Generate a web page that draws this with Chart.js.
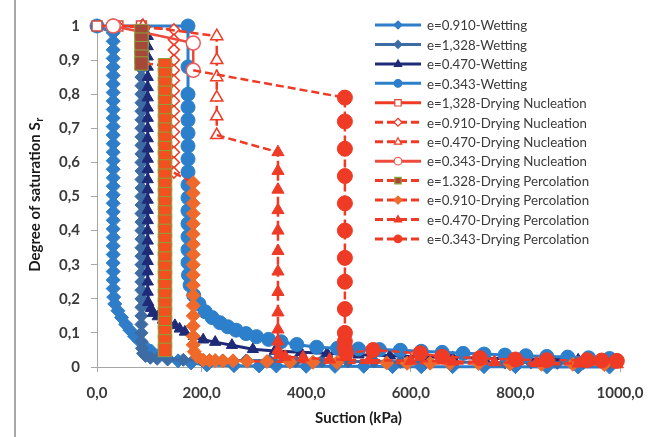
<!DOCTYPE html>
<html>
<head>
<meta charset="utf-8">
<script src="https://cdn.jsdelivr.net/npm/chart.js@4.4.1/dist/chart.umd.min.js"></script>
<style>
  html, body { margin: 0; padding: 0; background: #ffffff; }
  #wrap { width: 662px; height: 437px; }
</style>
</head>
<body>
<div id="wrap"><canvas id="c" width="662" height="437"></canvas></div>
<script>
// ---- tick labels ----
const xTickLabels = ['0,0', '200,0', '400,0', '600,0', '800,0', '1000,0'];
const yTickLabels = ['0', '0,1', '0,2', '0,3', '0,4', '0,5', '0,6', '0,7', '0,8', '0,9', '1'];
const xTitle = 'Suction (kPa)';
const yTitleMain = 'Degree of saturation S';
const yTitleSub = 'r';

// ---- series labels ----
const seriesLabels = [
  'e=0.910-Wetting',
  'e=1,328-Wetting',
  'e=0.470-Wetting',
  'e=0.343-Wetting',
  'e=1,328-Drying Nucleation',
  'e=0.910-Drying Nucleation',
  'e=0.470-Drying Nucleation',
  'e=0.343-Drying Nucleation',
  'e=1.328-Drying Percolation',
  'e=0.910-Drying Percolation',
  'e=0.470-Drying Percolation',
  'e=0.343-Drying Percolation'
];

// ---- series values: [suction kPa, degree of saturation] ----
const wet_e0910 = [[0,1.0],[31,0.98],[31,0.955],[31,0.93],[31,0.905],[31,0.88],[31,0.855],[31,0.83],[31,0.805],[31,0.78],[31,0.755],[31,0.73],[31,0.705],[31,0.68],[31,0.655],[31,0.63],[31,0.605],[31,0.58],[31,0.555],[31,0.53],[31,0.505],[31,0.48],[31,0.455],[31,0.43],[31,0.405],[31,0.38],[31,0.355],[31,0.33],[31,0.305],[31,0.28],[31,0.255],[31,0.23],[32,0.205],[34,0.185],[40,0.165],[47,0.145],[55,0.125],[63,0.108],[72,0.09],[82,0.075],[92,0.06],[104,0.047],[118,0.035],[135,0.025],[155,0.018],[180,0.012],[210,0.006],[262,0.004],[310,0.003],[343,0.003],[400,0.002],[455,0.002],[510,0.002],[565,0.001],[620,0.001],[680,0.001],[740,0.001],[800,0.001],[860,0],[920,0],[980,0]];
const wet_e1328 = [[85,1.0],[85,0.975],[85,0.95],[85,0.925],[85,0.9],[85,0.875],[85,0.85],[85,0.825],[85,0.8],[85,0.775],[85,0.75],[85,0.725],[85,0.7],[85,0.675],[85,0.65],[85,0.625],[85,0.6],[85,0.575],[85,0.55],[85,0.525],[85,0.5],[85,0.475],[85,0.45],[85,0.425],[85,0.4],[85,0.375],[85,0.35],[85,0.325],[85,0.3],[85,0.275],[85,0.25],[85,0.225],[85,0.2],[85,0.175],[85,0.15],[85,0.125],[85,0.1],[85,0.075],[86,0.055],[88,0.04],[93,0.032],[102,0.027],[115,0.024],[135,0.022],[165,0.021],[200,0.02],[240,0.019],[285,0.019],[330,0.018],[380,0.017],[430,0.017],[480,0.016],[530,0.016],[580,0.015],[630,0.015],[680,0.014],[730,0.014],[780,0.013],[830,0.013],[880,0.012],[930,0.012],[980,0.011]];
const wet_e0470 = [[88,1.0],[97,0.97],[97,0.94],[97,0.91],[97,0.88],[97,0.85],[97,0.82],[97,0.79],[97,0.76],[97,0.73],[97,0.70],[97,0.67],[97,0.64],[97,0.61],[97,0.58],[97,0.55],[97,0.52],[97,0.49],[97,0.46],[97,0.43],[97,0.40],[97,0.37],[97,0.34],[97,0.31],[97,0.28],[97,0.25],[97,0.22],[98,0.19],[103,0.172],[107,0.158],[116,0.148],[126,0.138],[137,0.13],[149,0.122],[158,0.112],[168,0.103],[185,0.09],[203,0.08],[226,0.073],[258,0.064],[298,0.052],[340,0.047],[390,0.043],[440,0.04],[500,0.036],[560,0.033],[620,0.03],[680,0.028],[740,0.026],[800,0.024],[860,0.022],[920,0.021],[980,0.02]];
const wet_e0343 = [[0,1.0],[31,1.0],[174,1.0],[174,0.88],[174,0.80],[174,0.762],[174,0.724],[174,0.686],[174,0.648],[174,0.61],[174,0.572],[174,0.534],[174,0.496],[174,0.458],[174,0.42],[174,0.382],[174,0.344],[174,0.306],[175,0.27],[178,0.24],[185,0.21],[195,0.185],[207,0.162],[220,0.145],[235,0.13],[250,0.118],[266,0.108],[285,0.098],[305,0.089],[328,0.081],[352,0.074],[382,0.066],[420,0.058],[460,0.055],[500,0.053],[540,0.051],[580,0.049],[620,0.046],[660,0.043],[700,0.04],[740,0.038],[780,0.035],[820,0.033],[860,0.031],[900,0.029],[940,0.027],[980,0.025]];
const nuc_e1328 = [[0,1.0],[40,1.0],[85,1.0]];
const nuc_e0910 = [[40,1.0],[147,0.99],[147,0.96],[147,0.93],[147,0.9],[147,0.87],[147,0.84],[147,0.81],[147,0.78],[147,0.75],[147,0.72],[147,0.69],[147,0.66],[147,0.63],[147,0.6],[147,0.57]];
const nuc_e0470 = [[88,1.0],[229,0.97],[229,0.9],[229,0.85],[229,0.79],[229,0.735],[229,0.68]];
const nuc_e0343 = [[31,1.0],[184,0.95],[184,0.87]];
const perc_e1328 = [[85,0.985],[85,0.96],[85,0.935],[85,0.91],[85,0.89],[130,0.885],[130,0.858],[130,0.831],[130,0.804],[130,0.777],[130,0.75],[130,0.723],[130,0.696],[130,0.669],[130,0.642],[130,0.615],[130,0.588],[130,0.561],[130,0.534],[130,0.507],[130,0.48],[130,0.453],[130,0.426],[130,0.399],[130,0.372],[130,0.345],[130,0.318],[130,0.291],[130,0.264],[130,0.237],[130,0.21],[130,0.183],[130,0.156],[130,0.129],[130,0.102],[130,0.075],[130,0.05]];
const perc_e0910 = [[147,0.57],[184,0.54],[184,0.51],[184,0.48],[184,0.45],[184,0.42],[184,0.39],[184,0.36],[184,0.33],[184,0.30],[184,0.27],[184,0.24],[184,0.21],[184,0.18],[184,0.15],[184,0.12],[184,0.09],[184,0.065],[186,0.045],[192,0.03],[203,0.02],[215,0.019],[226,0.019],[241,0.018],[260,0.018],[287,0.017],[325,0.016],[369,0.015],[413,0.014],[459,0.013],[554,0.012],[593,0.011],[637,0.011],[675,0.01],[730,0.01],[790,0.009],[850,0.008],[910,0.008],[970,0.007]];
const perc_e0470 = [[229,0.68],[346,0.63],[346,0.575],[346,0.52],[346,0.46],[346,0.40],[346,0.34],[346,0.28],[346,0.22],[346,0.16],[346,0.11],[346,0.075],[346,0.05],[348,0.035],[360,0.03],[394,0.028],[445,0.022],[520,0.02],[600,0.018],[680,0.016],[760,0.014],[840,0.012],[920,0.01],[995,0.008]];
const perc_e0343 = [[184,0.87],[474,0.79],[474,0.72],[474,0.64],[474,0.56],[474,0.48],[474,0.40],[474,0.32],[474,0.25],[474,0.17],[474,0.1],[474,0.075],[474,0.055],[476,0.04],[528,0.05],[618,0.04],[660,0.03],[732,0.026],[800,0.022],[860,0.02],[937,0.02],[965,0.019],[994,0.018]];

const seriesData = [wet_e0910, wet_e1328, wet_e0470, wet_e0343, nuc_e1328, nuc_e0910, nuc_e0470, nuc_e0343, perc_e1328, perc_e0910, perc_e0470, perc_e0343];

// ---- styles ----
const RED = '#EF3A25';
const FONT = 'Lato, "Open Sans", sans-serif';
const styles = [
  { line: '#2F7DC8', dash: [], ps: 'rectRot', r: 7, fill: '#2F7DC8', stroke: '#2F7DC8', lw: 3 },
  { line: '#3D6CA5', dash: [], ps: 'rectRot', r: 6.5, fill: '#3D6CA5', stroke: '#3D6CA5', lw: 3 },
  { line: '#1F2A78', dash: [], ps: 'triangle', r: 6.5, fill: '#1F2A78', stroke: '#1F2A78', lw: 3 },
  { line: '#2C7FCB', dash: [], ps: 'circle', r: 7, fill: '#2C7FCB', stroke: '#2C7FCB', lw: 3 },
  { line: RED, dash: [], ps: 'rect', r: 7, fill: '#ffffff', stroke: '#D8483A', lw: 2.5 },
  { line: RED, dash: [8, 4], ps: 'rectRot', r: 5.5, fill: '#ffffff', stroke: RED, lw: 2.5 },
  { line: RED, dash: [8, 4], ps: 'triangle', r: 7, fill: '#ffffff', stroke: RED, lw: 2.5 },
  { line: '#EE4A3C', dash: [], ps: 'circle', r: 7, fill: '#ffffff', stroke: '#EE5A5A', lw: 2.5 },
  { line: RED, dash: [8, 4], ps: 'rect', r: 9.5, fill: '#F2501F', stroke: '#8CA23B', lw: 2.5, firstFill: '#A4493A', firstN: 5 },
  { line: RED, dash: [8, 4], ps: 'rectRot', r: 7, fill: '#EF6A2A', stroke: '#EF6A2A', lw: 2.5, hideFirst: true },
  { line: RED, dash: [8, 4], ps: 'triangle', r: 7, fill: RED, stroke: RED, lw: 2.5, hideFirst: true },
  { line: RED, dash: [8, 4], ps: 'circle', r: 7.5, fill: RED, stroke: RED, lw: 2.5, hideFirst: true }
];

const datasets = seriesData.map((pts, i) => {
  const s = styles[i];
  return {
    label: seriesLabels[i],
    data: pts.map(p => ({ x: p[0], y: p[1] })),
    showLine: true,
    borderColor: s.line,
    borderWidth: s.lw,
    borderDash: s.dash,
    tension: 0,
    pointStyle: s.ps,
    pointRadius: (c) => (s.hideFirst && c.dataIndex === 0) ? 0 : s.r,
    pointBackgroundColor: (c) => (s.firstN && c.dataIndex < s.firstN) ? s.firstFill : s.fill,
    pointBorderColor: s.stroke,
    pointBorderWidth: s.fill === '#ffffff' ? 1.5 : 1,
    clip: false,
    order: 20 - i
  };
});

function drawMarker(ctx, style, x, y, r) {
  ctx.save();
  ctx.setLineDash([]);
  ctx.fillStyle = style.firstN ? style.firstFill : style.fill;
  ctx.strokeStyle = style.stroke;
  ctx.lineWidth = 1.2;
  ctx.beginPath();
  if (style.ps === 'circle') {
    ctx.arc(x, y, r, 0, Math.PI * 2);
  } else if (style.ps === 'rect') {
    const h = r * 0.8;
    ctx.rect(x - h, y - h, 2 * h, 2 * h);
  } else if (style.ps === 'rectRot') {
    ctx.moveTo(x, y - r); ctx.lineTo(x + r, y); ctx.lineTo(x, y + r); ctx.lineTo(x - r, y); ctx.closePath();
  } else if (style.ps === 'triangle') {
    ctx.moveTo(x, y - r); ctx.lineTo(x + r * 0.9, y + r * 0.6); ctx.lineTo(x - r * 0.9, y + r * 0.6); ctx.closePath();
  }
  ctx.fill();
  ctx.stroke();
  ctx.restore();
}

const decorPlugin = {
  id: 'decor',
  beforeDraw(chart) {
    const ctx = chart.ctx;
    ctx.save();
    ctx.fillStyle = '#ffffff';
    ctx.fillRect(0, 0, chart.width, chart.height);
    ctx.fillStyle = '#A8A8A8';
    ctx.fillRect(14, 0, 2, chart.height);
    ctx.restore();
  },
  afterDraw(chart) {
    const ctx = chart.ctx;
    // y title with subscript
    ctx.save();
    ctx.translate(35, 195);
    ctx.rotate(-Math.PI / 2);
    ctx.fillStyle = '#1a1a1a';
    ctx.textBaseline = 'middle';
    ctx.font = 'bold 15px ' + FONT;
    const wMain = ctx.measureText(yTitleMain).width;
    ctx.font = 'bold 11px ' + FONT;
    const wSub = ctx.measureText(yTitleSub).width;
    const start = -(wMain + wSub) / 2;
    ctx.font = 'bold 15px ' + FONT;
    ctx.textAlign = 'left';
    ctx.fillText(yTitleMain, start, 0);
    ctx.font = 'bold 11px ' + FONT;
    ctx.fillText(yTitleSub, start + wMain + 0.5, 4);
    ctx.restore();

    // legend
    ctx.save();
    const x0 = 375, x1 = 421, xm = 398, xt = 427, y0 = 25, dy = 19.45;
    chart.data.datasets.forEach((ds, i) => {
      const s = styles[i];
      const y = y0 + i * dy;
      ctx.save();
      ctx.strokeStyle = s.line;
      ctx.lineWidth = 3;
      ctx.setLineDash(s.dash.length ? [8, 4] : []);
      ctx.beginPath();
      ctx.moveTo(x0, y); ctx.lineTo(x1, y);
      ctx.stroke();
      ctx.restore();
      drawMarker(ctx, s, xm, y, s.ps === 'circle' ? 3.8 : 4);
      ctx.fillStyle = '#3a3a3a';
      ctx.font = '13.3px ' + FONT;
      ctx.textAlign = 'left';
      ctx.textBaseline = 'middle';
      ctx.fillText(ds.label, xt, y + 1);
    });
    ctx.restore();
  }
};

new Chart(document.getElementById('c'), {
  type: 'scatter',
  data: { datasets },
  options: {
    responsive: false,
    animation: false,
    devicePixelRatio: 1,
    layout: { padding: { top: 26, right: 42, bottom: 0, left: 0 } },
    plugins: { legend: { display: false }, tooltip: { enabled: false } },
    scales: {
      x: {
        type: 'linear',
        min: 0, max: 1000,
        afterFit: (s) => { s.height = 70; },
        ticks: {
          stepSize: 200,
          autoSkip: false,
          maxRotation: 0,
          padding: 12,
          color: '#3a3a3a',
          font: { family: FONT, size: 15, weight: 'bold' },
          callback: (v) => xTickLabels[Math.round(v / 200)]
        },
        grid: { drawOnChartArea: false, drawTicks: true, tickLength: 5, color: '#A6A6A6' },
        border: { color: '#A6A6A6', width: 1 },
        title: {
          display: true,
          text: xTitle,
          color: '#1a1a1a',
          font: { family: FONT, size: 15, weight: 'bold' },
          padding: { top: 4, bottom: 10 }
        }
      },
      y: {
        type: 'linear',
        min: 0, max: 1,
        afterFit: (s) => { s.width = 97; },
        ticks: {
          stepSize: 0.1,
          autoSkip: false,
          padding: 11,
          color: '#3a3a3a',
          font: { family: FONT, size: 15, weight: 'bold' },
          callback: (v) => yTickLabels[Math.round(v * 10)]
        },
        grid: { drawOnChartArea: false, drawTicks: true, tickLength: 6, color: '#A6A6A6' },
        border: { color: '#A6A6A6', width: 1 }
      }
    }
  },
  plugins: [decorPlugin]
});
</script>
</body>
</html>
